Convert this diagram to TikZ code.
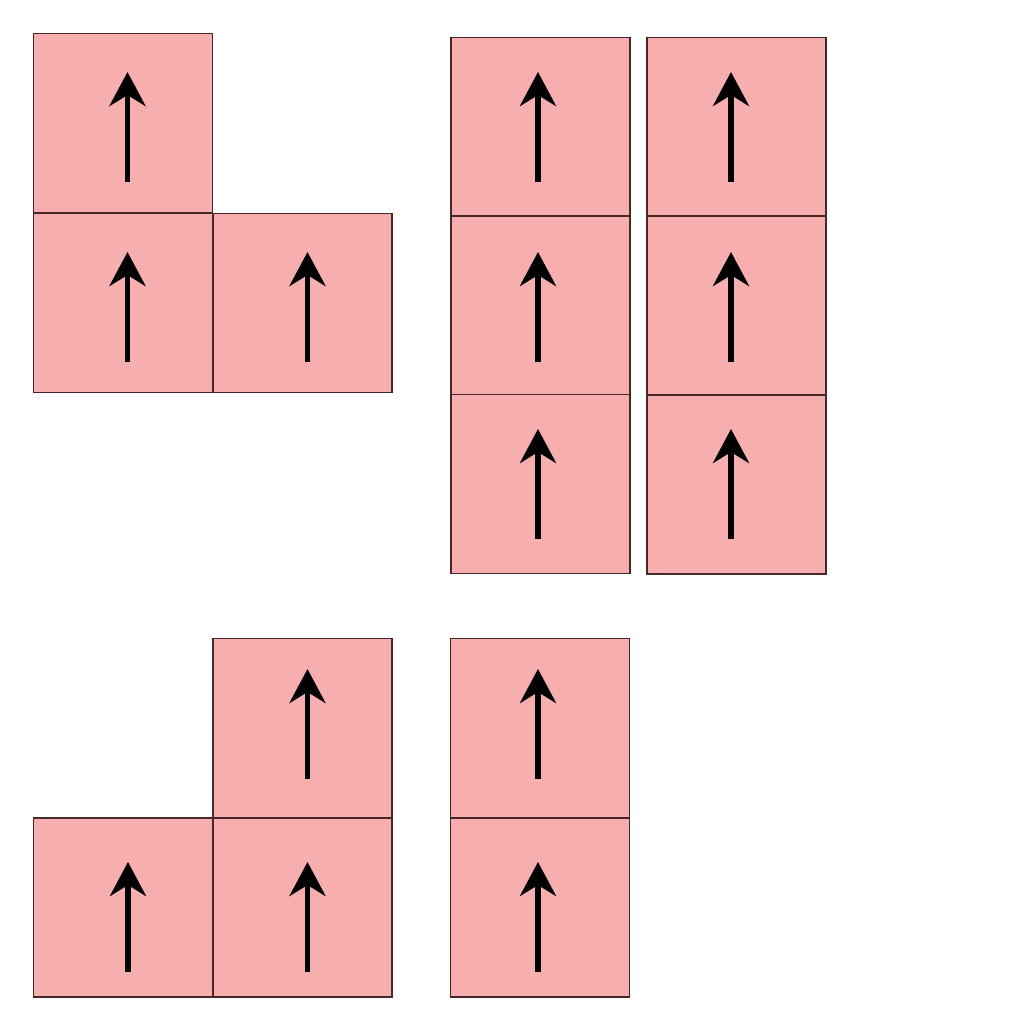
\documentclass[tikz,border=0pt]{standalone}
\usepackage{tikz}
\usetikzlibrary{arrows.meta,calc}
\definecolor{cellpink}{RGB}{247,174,174}
\definecolor{celledge}{RGB}{70,40,40}
\tikzstyle{cell}=[rectangle, draw=celledge, line width=0.4pt, fill=cellpink, minimum size=1.79cm, inner sep=0pt]
\tikzstyle{spin}=[draw=black, line width=1.7pt, -{Stealth[length=3.4mm, width=3.6mm, inset=1.1mm]}]

\begin{document}
\begin{tikzpicture}
	\useasboundingbox (0,0) rectangle (10.24,-10.24);
	\begin{scope}
		\node (a1) at (1.23, -1.23)[cell] {};
		\node (a2) at (1.23, -3.03)[cell] {};
		\node (a3) at (3.025, -3.03)[cell] {};

		\node (b1) at (5.405, -1.27)[cell] {};
		\node (b2) at (5.405, -3.055)[cell] {};
		\node (b3) at (5.405, -4.84)[cell] {};

		\node (c1) at (7.365, -1.27)[cell] {};
		\node (c2) at (7.365, -3.055)[cell] {};
		\node (c3) at (7.365, -4.845)[cell] {};

		\node (d1) at (3.025, -7.28)[cell] {};
		\node (d2) at (1.23, -9.075)[cell] {};
		\node (d3) at (3.025, -9.075)[cell] {};

		\node (e1) at (5.40, -7.28)[cell] {};
		\node (e2) at (5.40, -9.075)[cell] {};
	\end{scope}
	\begin{scope}
		% tail shifted from the centre of each cell
		\foreach \c/\dx/\dy in {a1/0.045/-0.59, a2/0.045/-0.59, a3/0.05/-0.59,
				b1/-0.025/-0.55, b2/-0.025/-0.565, b3/-0.025/-0.55,
				c1/-0.055/-0.55, c2/-0.055/-0.565, c3/-0.055/-0.545,
				d1/0.05/-0.51, d2/0.05/-0.645, d3/0.05/-0.645,
				e1/-0.02/-0.51, e2/-0.02/-0.645}
			\draw [spin] ($(\c)+(\dx,\dy)$) -- ($(\c)+(\dx,\dy+1.10)$);
	\end{scope}
\end{tikzpicture}
\end{document}
